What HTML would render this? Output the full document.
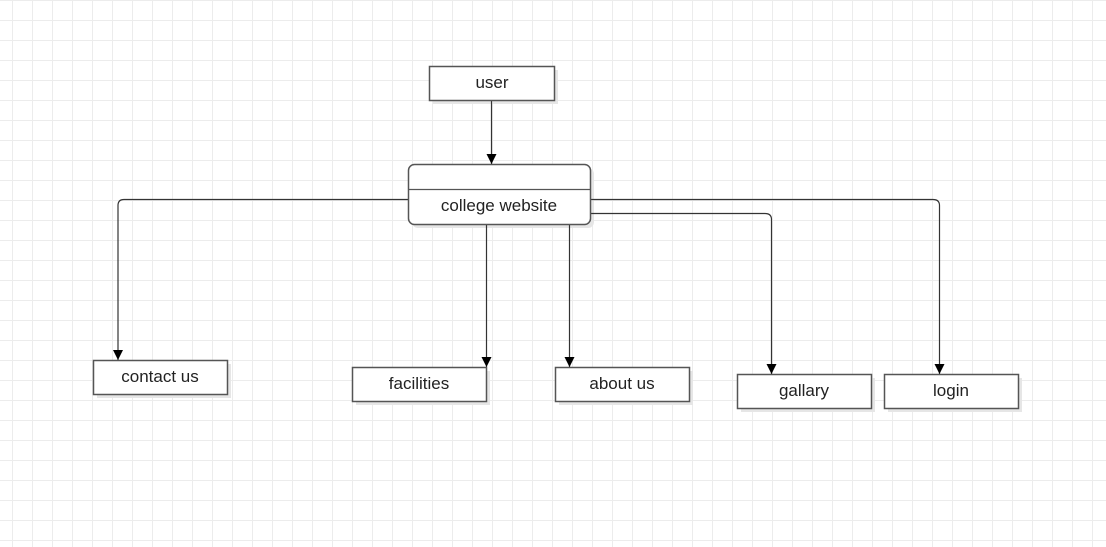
<!DOCTYPE html>
<html><head><style>
body{margin:0;width:1106px;height:547px;overflow:hidden;background:#fff;
background-image:linear-gradient(#ececec 1px,transparent 1px),linear-gradient(90deg,#ececec 1px,transparent 1px);
background-size:20px 20px;background-position:12px 0;font-family:"Liberation Sans",sans-serif;}
</style></head><body>
<svg width="1106" height="547" style="position:absolute;left:0;top:0" font-family="Liberation Sans, sans-serif" font-size="17" fill="#222">
<defs><marker id="a" markerWidth="10" markerHeight="10" refX="10" refY="5" orient="auto" markerUnits="userSpaceOnUse"><path d="M0,0 L10,5 L0,10z" fill="#000"/></marker></defs>
<g fill="#e6e6e6">
<rect x="433" y="70" width="125" height="34"/>
<rect x="412" y="168" width="182" height="60" rx="6"/>
<rect x="97" y="364" width="134" height="34"/>
<rect x="356" y="371" width="134" height="34"/>
<rect x="559" y="371" width="134" height="34"/>
<rect x="741" y="378" width="134" height="34"/>
<rect x="888" y="378" width="134" height="34"/>
</g>
<g fill="none" stroke="#333" stroke-width="1.2">
<path d="M491.5 100 V164" marker-end="url(#a)"/>
<path d="M408 199.5 H124 Q118 199.5 118 205.5 V360" marker-end="url(#a)"/>
<path d="M486.5 224 V367" marker-end="url(#a)"/>
<path d="M569.5 224 V367" marker-end="url(#a)"/>
<path d="M590 213.5 H765 Q771.5 213.5 771.5 219.5 V374" marker-end="url(#a)"/>
<path d="M590 199.5 H933 Q939.5 199.5 939.5 205.5 V374" marker-end="url(#a)"/>
</g>
<g fill="#fff" stroke="#555" stroke-width="1.5">
<rect x="429.5" y="66.5" width="125" height="34"/>
<rect x="408.5" y="164.5" width="182" height="60" rx="6"/>
<rect x="93.5" y="360.5" width="134" height="34"/>
<rect x="352.5" y="367.5" width="134" height="34"/>
<rect x="555.5" y="367.5" width="134" height="34"/>
<rect x="737.5" y="374.5" width="134" height="34"/>
<rect x="884.5" y="374.5" width="134" height="34"/>
</g>
<path d="M408.5 189.5 H590.5" stroke="#555" stroke-width="1.2"/>
<g text-anchor="middle">
<text x="492" y="88">user</text>
<text x="499" y="211">college website</text>
<text x="160" y="382">contact us</text>
<text x="419" y="389">facilities</text>
<text x="622" y="389">about us</text>
<text x="804" y="396">gallary</text>
<text x="951" y="396">login</text>
</g>
</svg>
</body></html>
